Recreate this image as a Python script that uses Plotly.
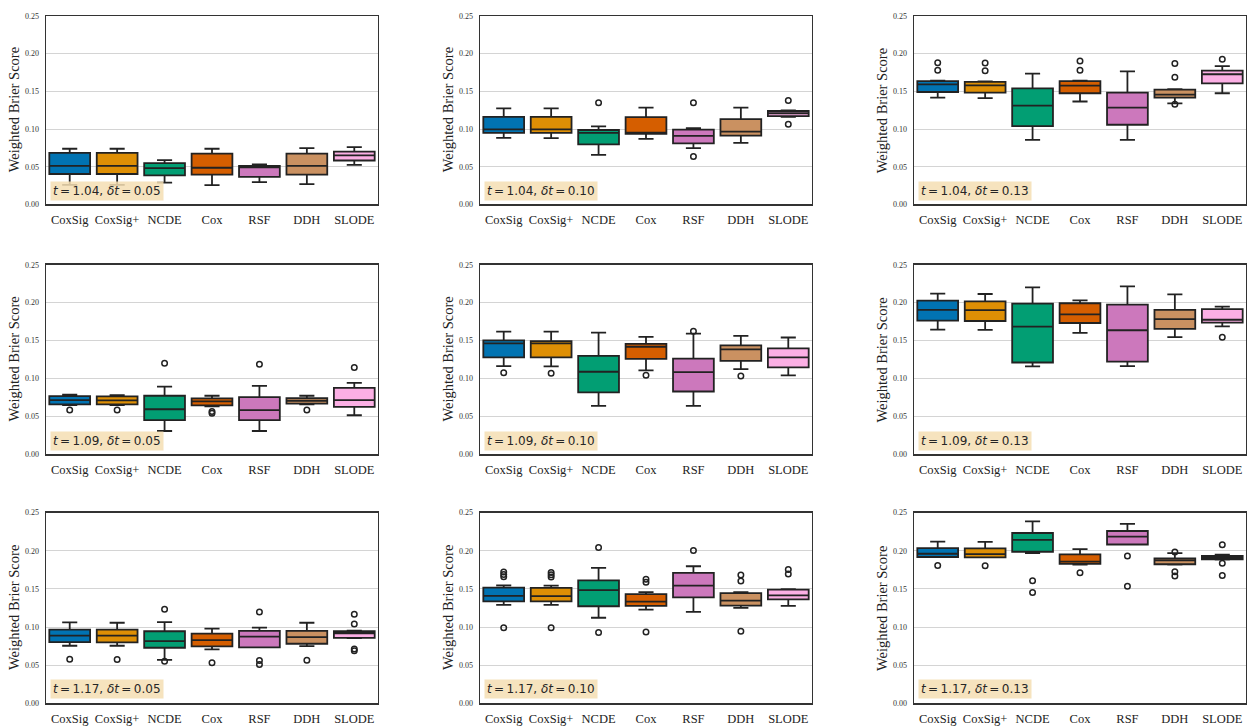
import plotly.graph_objects as go

CATEGORIES = ["CoxSig", "CoxSig+", "NCDE", "Cox", "RSF", "DDH", "SLODE"]
COLORS = ["#0173B2", "#DE8F05", "#029E73", "#D55E00", "#CC78BC", "#CA9161", "#FBAFE4"]
PANEL_T = ["1.04", "1.04", "1.04", "1.09", "1.09", "1.09", "1.17", "1.17", "1.17"]
PANEL_DT = ["0.05", "0.10", "0.13", "0.05", "0.10", "0.13", "0.05", "0.10", "0.13"]
Y_TICKS = [0.0, 0.05, 0.10, 0.15, 0.20, 0.25]
Y_TICK_TEXT = ["0.00", "0.05", "0.10", "0.15", "0.20", "0.25"]

Q1 = [
    [0.0404, 0.0404, 0.0387, 0.0396, 0.0365, 0.0396, 0.0583],
    [0.0948, 0.0948, 0.0796, 0.0935, 0.0809, 0.0913, 0.1170],
    [0.1491, 0.1483, 0.1039, 0.1474, 0.1057, 0.1417, 0.1604],
    [0.0660, 0.0660, 0.0451, 0.0647, 0.0451, 0.0668, 0.0625],
    [0.1280, 0.1280, 0.0816, 0.1259, 0.0829, 0.1233, 0.1146],
    [0.1762, 0.1758, 0.1211, 0.1732, 0.1224, 0.1654, 0.1736],
    [0.0802, 0.0798, 0.0728, 0.0746, 0.0733, 0.0780, 0.0858],
    [0.1336, 0.1336, 0.1272, 0.1276, 0.1388, 0.1280, 0.1362],
    [0.1918, 0.1914, 0.1987, 0.1828, 0.2082, 0.1823, 0.1888],
]
MEDIAN = [
    [0.0513, 0.0513, 0.0483, 0.0487, 0.0491, 0.0513, 0.0652],
    [0.0996, 0.0996, 0.0948, 0.0952, 0.0909, 0.0965, 0.1209],
    [0.1591, 0.1578, 0.1309, 0.1574, 0.1283, 0.1457, 0.1726],
    [0.0716, 0.0712, 0.0595, 0.0699, 0.0582, 0.0707, 0.0716],
    [0.1463, 0.1463, 0.1089, 0.1419, 0.1085, 0.1385, 0.1280],
    [0.1905, 0.1901, 0.1684, 0.1845, 0.1636, 0.1784, 0.1775],
    [0.0888, 0.0888, 0.0815, 0.0828, 0.0875, 0.0866, 0.0918],
    [0.1409, 0.1405, 0.1483, 0.1332, 0.1543, 0.1345, 0.1414],
    [0.1961, 0.1957, 0.2142, 0.1858, 0.2185, 0.1875, 0.1909],
]
Q3 = [
    [0.0683, 0.0683, 0.0548, 0.0674, 0.0513, 0.0674, 0.0700],
    [0.1161, 0.1161, 0.0987, 0.1157, 0.0991, 0.1130, 0.1239],
    [0.1635, 0.1626, 0.1539, 0.1635, 0.1483, 0.1522, 0.1774],
    [0.0768, 0.0764, 0.0773, 0.0738, 0.0755, 0.0742, 0.0877],
    [0.1502, 0.1493, 0.1298, 0.1458, 0.1263, 0.1437, 0.1398],
    [0.2027, 0.2018, 0.1988, 0.1992, 0.1975, 0.1905, 0.1914],
    [0.0966, 0.0966, 0.0944, 0.0914, 0.0948, 0.0948, 0.0944],
    [0.1517, 0.1513, 0.1612, 0.1431, 0.1711, 0.1444, 0.1491],
    [0.2034, 0.2030, 0.2233, 0.1953, 0.2259, 0.1901, 0.1931],
]
WHISK_LOW = [
    [0.0260, 0.0260, 0.0291, 0.0257, 0.0296, 0.0270, 0.0526],
    [0.0883, 0.0880, 0.0657, 0.0870, 0.0748, 0.0817, 0.1160],
    [0.1417, 0.1409, 0.0857, 0.1365, 0.0857, 0.1339, 0.1474],
    [0.0650, 0.0650, 0.0308, 0.0634, 0.0308, 0.0660, 0.0516],
    [0.1163, 0.1159, 0.0638, 0.1107, 0.0638, 0.1124, 0.1042],
    [0.1645, 0.1641, 0.1159, 0.1602, 0.1163, 0.1545, 0.1688],
    [0.0754, 0.0754, 0.0569, 0.0707, 0.0733, 0.0750, 0.0853],
    [0.1289, 0.1289, 0.1121, 0.1228, 0.1198, 0.1250, 0.1276],
    [0.1918, 0.1914, 0.1970, 0.1819, 0.2082, 0.1819, 0.1885],
]
WHISK_HIGH = [
    [0.0739, 0.0739, 0.0587, 0.0739, 0.0530, 0.0748, 0.0761],
    [0.1274, 0.1274, 0.1035, 0.1283, 0.1013, 0.1283, 0.1248],
    [0.1640, 0.1630, 0.1735, 0.1640, 0.1765, 0.1530, 0.1835],
    [0.0786, 0.0780, 0.0894, 0.0773, 0.0903, 0.0773, 0.0942],
    [0.1619, 0.1619, 0.1606, 0.1550, 0.1593, 0.1563, 0.1541],
    [0.2118, 0.2114, 0.2201, 0.2031, 0.2214, 0.2109, 0.1949],
    [0.1060, 0.1056, 0.1065, 0.0978, 0.0991, 0.1056, 0.0953],
    [0.1547, 0.1543, 0.1776, 0.1457, 0.1797, 0.1457, 0.1495],
    [0.2121, 0.2116, 0.2384, 0.2022, 0.2353, 0.1970, 0.1948],
]
OUTLIERS = [
    [[], [], [], [], [], [], []],
    [[], [], [0.1348], [], [0.1348, 0.0635], [], [0.1378, 0.1065]],
    [[0.1878, 0.1778], [0.1874, 0.1774], [], [0.1900, 0.1778], [], [0.1870, 0.1687, 0.1330], [0.1926]],
    [[0.0586], [0.0586], [0.1202], [0.0564, 0.0543], [0.1189], [0.0586], [0.1146]],
    [[0.1076], [0.1068], [], [0.1042], [0.1623], [0.1033], []],
    [[], [], [], [], [], [], [0.1545]],
    [[0.0578], [0.0574], [0.1233, 0.0552], [0.0530], [0.1198, 0.0560, 0.0509], [0.0565],
     [0.1168, 0.1039, 0.0711, 0.0690]],
    [[0.1720, 0.1690, 0.1660, 0.0991], [0.1716, 0.1686, 0.1656, 0.0991], [0.2043, 0.0927],
     [0.1625, 0.1586, 0.0935], [0.2004], [0.1681, 0.1603, 0.0944], [0.1754, 0.1694]],
    [[0.1806], [0.1802], [0.1608, 0.1453], [0.1711], [0.1931, 0.1534], [0.1983, 0.1724, 0.1668],
     [0.2078, 0.1836, 0.1677]],
]

W, H = 1248, 728
COL_PX = [(46, 378), (480, 812), (914, 1246)]
ROW_PX = [(12, 203), (264, 456), (515, 708)]
EDGE = "#222222"
SERIF = "Liberation Serif, Times New Roman, serif"

fig = go.Figure()
layout = dict(
    width=W, height=H, margin=dict(l=0, r=0, t=0, b=0),
    paper_bgcolor="white", plot_bgcolor="white", showlegend=False,
    boxmode="overlay",
)
annotations = []

for p in range(9):
    r, c = divmod(p, 3)
    n = p + 1
    xs = "x" if n == 1 else f"x{n}"
    ys = "y" if n == 1 else f"y{n}"
    xk = "xaxis" if n == 1 else f"xaxis{n}"
    yk = "yaxis" if n == 1 else f"yaxis{n}"
    x0, x1 = COL_PX[c]
    y0, y1 = ROW_PX[r]
    layout[xk] = dict(
        domain=[x0 / W, x1 / W], anchor=ys, type="category",
        categoryorder="array", categoryarray=CATEGORIES, range=[-0.5, 6.5],
        showline=True, mirror=True, linecolor="#333333", linewidth=1.3,
        showgrid=False, zeroline=False, ticks="outside", ticklen=3,
        tickcolor="rgba(0,0,0,0)",
        tickfont=dict(family=SERIF, size=12.5, color="#222222"), fixedrange=True,
    )
    layout[yk] = dict(
        domain=[1 - y1 / H, 1 - y0 / H], anchor=xs, range=[0, 0.25],
        tickvals=Y_TICKS, ticktext=Y_TICK_TEXT,
        showline=True, mirror=True, linecolor="#333333", linewidth=1.3,
        showgrid=True, gridcolor="#d4d4d4", gridwidth=1, zeroline=False,
        ticks="outside", ticklen=4, tickcolor="rgba(0,0,0,0)",
        tickfont=dict(family=SERIF, size=8, color="#333333"), fixedrange=True,
    )
    for k, cat in enumerate(CATEGORIES):
        fig.add_trace(go.Box(
            x=[cat], q1=[Q1[p][k]], median=[MEDIAN[p][k]], q3=[Q3[p][k]],
            lowerfence=[WHISK_LOW[p][k]], upperfence=[WHISK_HIGH[p][k]],
            fillcolor=COLORS[k], line=dict(color=EDGE, width=1.8),
            width=0.86, whiskerwidth=0.37, boxpoints=False,
            xaxis=xs, yaxis=ys, hoverinfo="skip",
        ))
        if OUTLIERS[p][k]:
            fig.add_trace(go.Scatter(
                x=[cat] * len(OUTLIERS[p][k]), y=OUTLIERS[p][k], mode="markers",
                marker=dict(symbol="circle-open", size=5.5, color=EDGE,
                            line=dict(width=1.5, color=EDGE)),
                xaxis=xs, yaxis=ys, hoverinfo="skip",
            ))
    annotations.append(dict(
        xref=f"{xs} domain", yref=f"{ys} domain", x=0.012, y=0.02,
        xanchor="left", yanchor="bottom", showarrow=False,
        text=f"<i>t</i>\u2009=\u2009{PANEL_T[p]}, <i>\u03b4t</i>\u2009=\u2009{PANEL_DT[p]}",
        font=dict(family="DejaVu Sans", size=12, color="#262626"),
        bgcolor="rgba(245,222,179,0.85)", borderpad=2,
    ))
    annotations.append(dict(
        xref=f"{xs} domain", yref=f"{ys} domain", x=0, y=0.5, xshift=-32,
        xanchor="center", yanchor="middle", showarrow=False, textangle=-90,
        text="Weighted Brier Score",
        font=dict(family=SERIF, size=14.5, color="#222222"),
    ))

layout["annotations"] = annotations
fig.update_layout(**layout)
fig.write_html(
    "out.html",
    config={"displayModeBar": False, "staticPlot": True},
    post_script="document.body.style.margin='0';document.body.style.overflow='hidden';",
)
